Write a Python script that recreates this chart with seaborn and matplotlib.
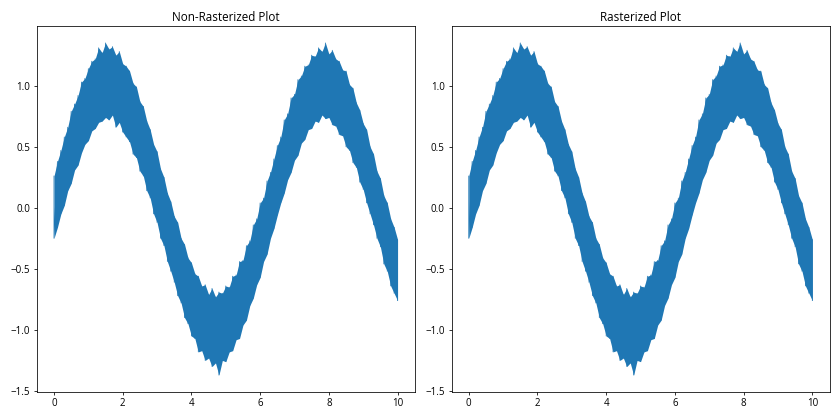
import numpy as np
import pandas as pd
import matplotlib
matplotlib.use("Agg")
import matplotlib.pyplot as plt
import seaborn as sns

# x positions (step 0.1) and upper / lower edges of the noisy band
x_vals = [round(i * 0.1, 1) for i in range(101)]
upper = [0.26, 0.38, 0.47, 0.58, 0.66, 0.79, 0.85, 0.92, 1.03, 1.06,
         1.14, 1.20, 1.22, 1.31, 1.27, 1.35, 1.30, 1.32, 1.25, 1.28,
         1.18, 1.16, 1.12, 1.02, 0.99, 0.87, 0.83, 0.71, 0.64, 0.52,
         0.46, 0.32, 0.25, 0.12, 0.05, -0.07, -0.12, -0.25, -0.30, -0.41,
         -0.45, -0.54, -0.56, -0.64, -0.63, -0.71, -0.66, -0.73, -0.69, -0.70,
         -0.64, -0.65, -0.56, -0.55, -0.44, -0.43, -0.31, -0.27, -0.14, -0.09,
         0.04, 0.08, 0.22, 0.29, 0.40, 0.51, 0.58, 0.72, 0.77, 0.90,
         0.93, 1.05, 1.08, 1.16, 1.17, 1.25, 1.24, 1.31, 1.28, 1.35,
         1.26, 1.29, 1.22, 1.20, 1.13, 1.12, 1.01, 0.98, 0.86, 0.80,
         0.69, 0.64, 0.50, 0.44, 0.30, 0.24, 0.10, 0.04, -0.09, -0.16,
         -0.26]
lower = [-0.25, -0.16, -0.05, 0.02, 0.14, 0.20, 0.31, 0.35, 0.45, 0.52,
         0.55, 0.63, 0.65, 0.70, 0.71, 0.74, 0.72, 0.76, 0.66, 0.70,
         0.62, 0.58, 0.54, 0.44, 0.41, 0.30, 0.26, 0.14, 0.08, -0.05,
         -0.12, -0.25, -0.31, -0.44, -0.52, -0.61, -0.72, -0.78, -0.90, -0.95,
         -1.05, -1.07, -1.18, -1.17, -1.25, -1.23, -1.30, -1.27, -1.37, -1.25,
         -1.26, -1.18, -1.17, -1.08, -1.07, -0.96, -0.92, -0.80, -0.74, -0.63,
         -0.57, -0.44, -0.38, -0.25, -0.17, -0.06, 0.04, 0.12, 0.23, 0.29,
         0.39, 0.43, 0.53, 0.56, 0.64, 0.65, 0.71, 0.70, 0.76, 0.73,
         0.74, 0.68, 0.67, 0.60, 0.59, 0.50, 0.47, 0.37, 0.33, 0.21,
         0.15, 0.04, -0.05, -0.14, -0.25, -0.32, -0.46, -0.52, -0.64, -0.70,
         -0.76]
titles = ["Non-Rasterized Plot", "Rasterized Plot"]

plt.rcParams['font.family'] = ['Open Sans', 'DejaVu Sans']

# interleave edges so the line sweeps across the band
zx, zy = [], []
for xv, u, l in zip(x_vals, upper, lower):
    zx += [xv, xv]
    zy += [u, l]
df = pd.DataFrame({"x": zx, "y": zy})

color = "#1f77b4"
fig, axes = plt.subplots(1, 2, figsize=(12, 6), dpi=70)
for ax, title, rast in zip(axes, titles, [False, True]):
    ax.fill_between(x_vals, lower, upper, color=color, linewidth=0, rasterized=rast)
    sns.lineplot(data=df, x="x", y="y", ax=ax, estimator=None, sort=False,
                 color=color, linewidth=0.8, rasterized=rast)
    ax.set_title(title, fontsize=12)
    ax.set_xlabel("")
    ax.set_ylabel("")
    ax.tick_params(labelsize=10)
fig.tight_layout()
fig.savefig("out.png", dpi=70)
